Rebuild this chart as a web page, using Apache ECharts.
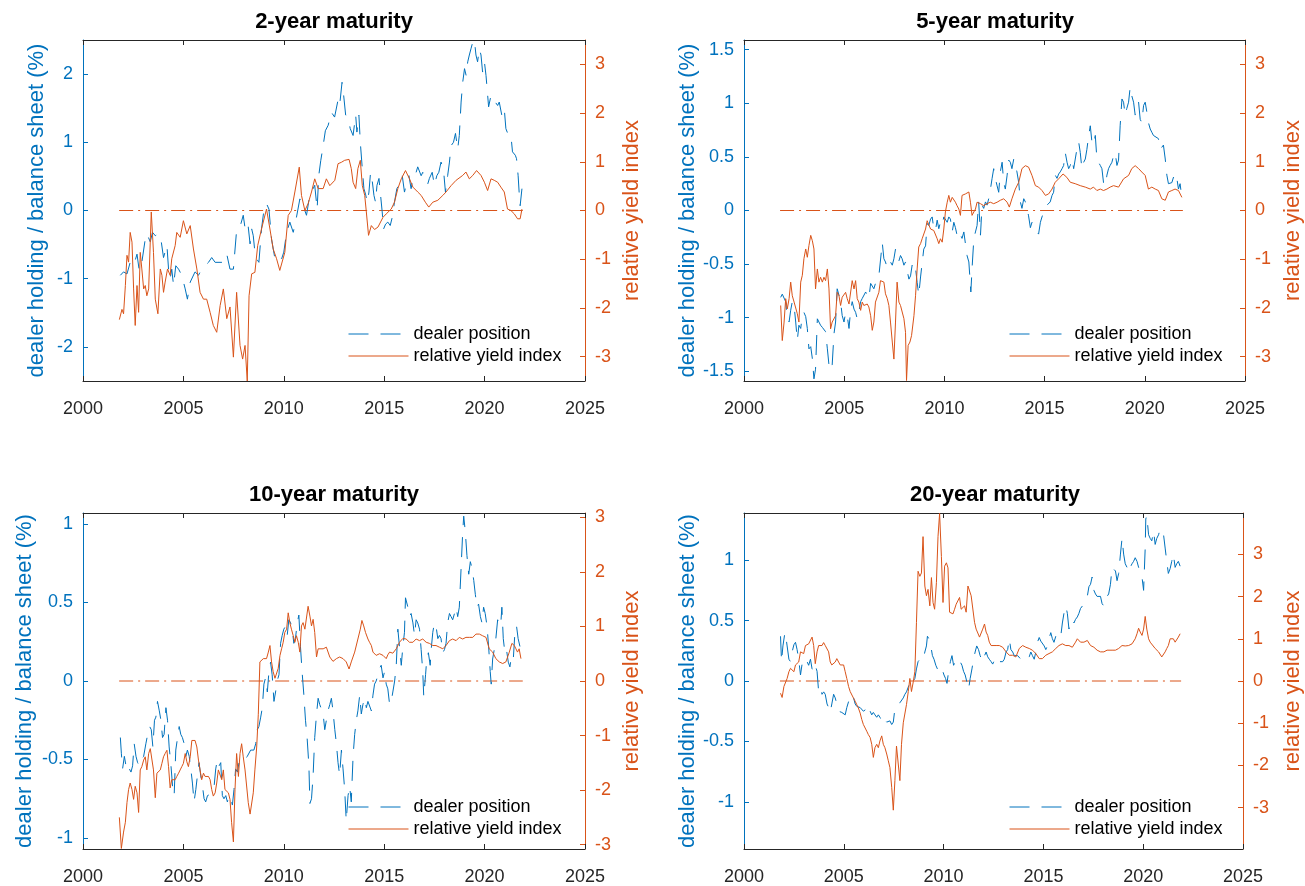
<!DOCTYPE html>
<html>
<head>
<meta charset="utf-8">
<title>Dealer position and relative yield index</title>
<script src="https://cdn.jsdelivr.net/npm/echarts@6/dist/echarts.min.js"></script>
<style>
  html, body { margin: 0; padding: 0; background: #fff; }
  #chart { width: 1305px; height: 886px; }
</style>
</head>
<body>
<div id="chart"></div>
<script>
var titles = ['2-year maturity', '5-year maturity', '10-year maturity', '20-year maturity']
var yearTicks = [2000, 2025]
var zeroSpan = [2001.8, 2021.9]
var leftLimit = [2.5, 1.59, 1.07, 1.39]
var rightLimit = [3.5, 3.5, 3.08, 3.98]
var leftTicks = [
  [-2, -1, 0, 1, 2],
  [-1.5, -1, -0.5, 0, 0.5, 1, 1.5],
  [-1, -0.5, 0, 0.5, 1],
  [-1, -0.5, 0, 0.5, 1]
]
var rightTicks = [-3, -2, -1, 0, 1, 2, 3]

// [year, value]
var dealer2y = [[2001.86,-0.95],[2002.02,-0.90],[2002.19,-0.93],[2002.35,-0.76],[2002.52,-0.81],[2002.69,-0.64],[2002.80,-0.88],[2002.93,-0.76],[2003.10,-0.42],[2003.18,-0.34],[2003.35,-0.46],[2003.46,-0.32],[2003.60,-0.37],[2003.76,-0.34],[2003.88,-0.42],[2004.01,-0.69],[2004.18,-0.51],[2004.26,-0.86],[2004.34,-1.00],[2004.42,-0.86],[2004.51,-1.10],[2004.62,-0.81],[2004.76,-0.86],[2004.92,-0.95],[2005.09,-1.15],[2005.20,-1.30],[2005.34,-1.05],[2005.58,-0.90],[2005.75,-0.95],[2005.91,-0.86],[2006.08,-0.81],[2006.25,-0.76],[2006.41,-0.69],[2006.58,-0.76],[2006.99,-0.76],[2007.16,-0.64],[2007.32,-0.86],[2007.49,-0.86],[2007.65,-0.29],[2007.82,-0.24],[2007.98,-0.07],[2008.10,-0.32],[2008.23,-0.24],[2008.32,-0.49],[2008.40,-0.27],[2008.48,-0.37],[2008.56,-0.61],[2008.65,-0.71],[2008.76,-0.76],[2008.89,-0.27],[2009.03,0.05],[2009.14,0.10],[2009.26,0.02],[2009.39,-0.42],[2009.56,-0.71],[2009.72,-0.66],[2009.89,-0.71],[2010.00,-0.61],[2010.14,-0.32],[2010.30,-0.17],[2010.47,-0.32],[2010.63,-0.10],[2010.80,0.17],[2010.96,0.07],[2011.13,-0.07],[2011.30,0.24],[2011.46,0.32],[2011.54,0.37],[2011.66,0.02],[2011.74,0.51],[2011.84,0.73],[2011.96,0.95],[2012.07,1.17],[2012.21,1.25],[2012.37,1.44],[2012.53,1.37],[2012.70,1.62],[2012.78,1.54],[2012.90,1.88],[2012.98,1.69],[2013.08,1.40],[2013.20,1.35],[2013.31,1.20],[2013.45,1.10],[2013.58,1.40],[2013.64,1.15],[2013.74,1.40],[2013.81,1.00],[2013.91,0.61],[2013.99,0.32],[2014.07,0.24],[2014.16,0.12],[2014.24,0.27],[2014.32,0.56],[2014.41,0.42],[2014.49,0.22],[2014.57,0.12],[2014.64,0.37],[2014.74,0.47],[2014.82,0.22],[2014.90,-0.02],[2014.97,-0.27],[2015.07,-0.20],[2015.18,-0.17],[2015.30,-0.22],[2015.40,-0.10],[2015.51,0.12],[2015.63,0.32],[2015.76,0.39],[2015.90,0.51],[2016.01,0.27],[2016.13,0.42],[2016.23,0.51],[2016.34,0.32],[2016.46,0.51],[2016.59,0.56],[2016.67,0.64],[2016.84,0.51],[2016.92,0.56],[2017.05,0.42],[2017.17,0.39],[2017.25,0.47],[2017.39,0.56],[2017.50,0.37],[2017.62,0.51],[2017.72,0.56],[2017.83,0.71],[2017.95,0.61],[2018.05,0.27],[2018.16,0.51],[2018.25,0.71],[2018.33,0.95],[2018.45,1.00],[2018.55,1.13],[2018.66,0.90],[2018.74,1.10],[2018.83,1.59],[2018.91,1.88],[2019.00,2.08],[2019.08,1.98],[2019.16,2.18],[2019.24,2.28],[2019.32,2.37],[2019.41,2.47],[2019.49,2.50],[2019.57,2.28],[2019.65,2.18],[2019.74,2.37],[2019.82,2.28],[2019.90,2.03],[2019.99,2.18],[2020.07,1.98],[2020.20,1.52],[2020.32,1.69],[2020.40,1.64],[2020.53,1.59],[2020.65,1.54],[2020.73,1.59],[2020.86,1.39],[2020.98,1.49],[2021.06,1.20],[2021.19,1.10],[2021.31,1.10],[2021.39,0.86],[2021.53,0.81],[2021.59,0.76],[2021.67,0.51],[2021.72,0.27],[2021.77,0.07],[2021.86,0.32]]

var ryi2y = [[2001.81,-2.24],[2001.94,-2.03],[2002.02,-2.12],[2002.11,-1.54],[2002.19,-0.92],[2002.27,-1.06],[2002.35,-0.45],[2002.44,-0.65],[2002.52,-1.61],[2002.60,-2.36],[2002.69,-1.54],[2002.77,-2.09],[2002.85,-0.86],[2002.93,-1.20],[2003.02,-1.61],[2003.10,-1.54],[2003.18,-1.75],[2003.27,-1.61],[2003.40,-0.03],[2003.51,-0.86],[2003.60,-1.82],[2003.73,-2.12],[2003.85,-1.20],[2003.93,-1.33],[2004.01,-1.68],[2004.09,-1.47],[2004.21,-1.20],[2004.34,-1.33],[2004.42,-0.99],[2004.59,-0.72],[2004.67,-0.45],[2004.76,-0.48],[2004.84,-0.55],[2005.00,-0.21],[2005.17,-0.48],[2005.34,-0.31],[2005.50,-0.79],[2005.67,-1.20],[2005.83,-1.68],[2006.00,-1.82],[2006.16,-1.82],[2006.33,-2.09],[2006.49,-2.36],[2006.66,-2.50],[2006.83,-1.95],[2006.99,-1.61],[2007.16,-2.22],[2007.32,-1.98],[2007.49,-3.01],[2007.65,-1.68],[2007.82,-2.77],[2007.95,-3.05],[2008.07,-2.77],[2008.18,-3.50],[2008.27,-1.75],[2008.40,-1.30],[2008.56,-1.27],[2008.70,-0.72],[2008.89,-0.38],[2009.14,0.03],[2009.31,-0.38],[2009.47,-0.79],[2009.64,-0.99],[2009.80,-1.23],[2009.89,-1.23],[2010.05,-0.86],[2010.22,-0.10],[2010.38,0.00],[2010.55,0.38],[2010.77,0.89],[2010.88,0.31],[2011.05,0.00],[2011.21,0.14],[2011.38,0.38],[2011.54,0.65],[2011.71,0.45],[2011.96,0.45],[2012.12,0.65],[2012.29,0.51],[2012.54,0.62],[2012.70,0.96],[2012.87,0.99],[2013.03,1.03],[2013.25,1.05],[2013.36,0.86],[2013.45,0.58],[2013.58,0.45],[2013.69,0.86],[2013.81,1.03],[2013.91,0.51],[2014.03,0.31],[2014.11,-0.03],[2014.22,-0.51],[2014.36,-0.31],[2014.52,-0.39],[2014.69,-0.34],[2014.94,-0.14],[2015.10,-0.07],[2015.35,0.03],[2015.51,0.17],[2015.68,0.45],[2015.85,0.65],[2016.06,0.82],[2016.26,0.65],[2016.43,0.48],[2016.67,0.38],[2016.84,0.31],[2017.05,0.17],[2017.22,0.07],[2017.42,0.17],[2017.67,0.21],[2017.92,0.31],[2018.08,0.38],[2018.33,0.51],[2018.58,0.62],[2018.91,0.72],[2019.07,0.79],[2019.24,0.65],[2019.41,0.72],[2019.60,0.82],[2019.82,0.72],[2019.99,0.58],[2020.15,0.41],[2020.32,0.65],[2020.48,0.62],[2020.65,0.58],[2020.81,0.48],[2020.98,0.38],[2021.14,0.03],[2021.31,0.00],[2021.48,-0.07],[2021.64,-0.17],[2021.77,-0.17],[2021.86,0.03]]

var dealer5y = [[2001.83,-0.81],[2001.91,-0.78],[2002.00,-0.79],[2002.08,-0.85],[2002.16,-1.01],[2002.25,-1.04],[2002.33,-0.93],[2002.41,-0.85],[2002.50,-0.89],[2002.58,-1.04],[2002.66,-1.21],[2002.74,-1.07],[2002.83,-1.10],[2002.91,-0.98],[2002.99,-0.95],[2003.08,-0.99],[2003.16,-1.10],[2003.24,-1.29],[2003.33,-1.27],[2003.41,-1.38],[2003.49,-1.57],[2003.57,-1.48],[2003.66,-1.01],[2003.74,-1.04],[2003.82,-1.07],[2003.91,-1.09],[2003.99,-1.10],[2004.07,-1.13],[2004.16,-1.29],[2004.24,-1.44],[2004.32,-1.49],[2004.40,-1.44],[2004.49,-1.15],[2004.57,-1.04],[2004.65,-0.73],[2004.74,-0.79],[2004.82,-0.85],[2004.90,-0.98],[2004.99,-1.04],[2005.07,-0.95],[2005.15,-0.98],[2005.24,-1.10],[2005.32,-0.93],[2005.40,-0.85],[2005.49,-0.92],[2005.57,-0.95],[2005.65,-1.01],[2005.73,-0.95],[2005.82,-0.85],[2005.90,-0.82],[2006.07,-0.76],[2006.23,-0.82],[2006.32,-0.68],[2006.40,-0.67],[2006.48,-0.73],[2006.56,-0.68],[2006.65,-0.64],[2006.73,-0.61],[2006.81,-0.61],[2006.90,-0.30],[2006.98,-0.45],[2007.06,-0.48],[2007.15,-0.54],[2007.23,-0.54],[2007.31,-0.48],[2007.40,-0.51],[2007.48,-0.45],[2007.56,-0.36],[2007.64,-0.42],[2007.73,-0.47],[2007.81,-0.42],[2007.89,-0.45],[2007.98,-0.51],[2008.06,-0.48],[2008.14,-0.56],[2008.23,-0.64],[2008.31,-0.61],[2008.39,-0.51],[2008.48,-0.57],[2008.56,-0.54],[2008.64,-0.67],[2008.72,-0.79],[2008.81,-0.62],[2008.89,-0.61],[2008.97,-0.36],[2009.06,-0.33],[2009.14,-0.12],[2009.22,-0.14],[2009.31,-0.08],[2009.39,-0.06],[2009.47,-0.17],[2009.55,-0.19],[2009.64,-0.09],[2009.72,-0.17],[2009.80,-0.11],[2009.89,-0.14],[2009.97,-0.06],[2010.05,-0.05],[2010.14,-0.11],[2010.22,-0.06],[2010.30,-0.08],[2010.39,-0.20],[2010.47,-0.11],[2010.55,-0.16],[2010.63,-0.23],[2010.72,-0.19],[2010.80,-0.20],[2010.88,-0.26],[2010.97,-0.20],[2011.13,-0.42],[2011.22,-0.48],[2011.32,-0.76],[2011.38,-0.54],[2011.47,-0.26],[2011.55,-0.20],[2011.63,-0.14],[2011.71,0.08],[2011.80,-0.23],[2011.88,0.05],[2011.96,0.02],[2012.05,0.08],[2012.13,0.05],[2012.21,0.11],[2012.29,0.19],[2012.38,0.30],[2012.46,0.39],[2012.54,0.30],[2012.63,0.23],[2012.71,0.17],[2012.79,0.36],[2012.88,0.45],[2012.96,0.26],[2013.04,0.20],[2013.13,0.33],[2013.21,0.47],[2013.29,0.45],[2013.37,0.39],[2013.46,0.48],[2013.54,0.42],[2013.62,0.36],[2013.71,0.26],[2013.79,0.08],[2013.87,0.02],[2013.96,0.11],[2014.04,0.08],[2014.12,0.02],[2014.20,-0.05],[2014.29,-0.16],[2014.37,-0.11],[2014.45,-0.11],[2014.54,-0.16],[2014.62,-0.20],[2014.70,-0.22],[2014.79,-0.11],[2014.87,-0.06],[2014.95,-0.05],[2015.04,0.03],[2015.12,0.05],[2015.20,0.06],[2015.28,0.08],[2015.37,0.14],[2015.45,0.17],[2015.53,0.33],[2015.62,0.30],[2015.70,0.34],[2015.78,0.36],[2015.87,0.39],[2015.95,0.42],[2016.03,0.54],[2016.12,0.45],[2016.20,0.39],[2016.28,0.42],[2016.37,0.48],[2016.45,0.39],[2016.53,0.48],[2016.61,0.57],[2016.70,0.64],[2016.78,0.54],[2016.86,0.39],[2016.95,0.45],[2017.03,0.48],[2017.11,0.57],[2017.20,0.70],[2017.28,0.79],[2017.36,0.64],[2017.44,0.61],[2017.53,0.70],[2017.61,0.48],[2017.69,0.45],[2017.78,0.42],[2017.86,0.39],[2017.94,0.26],[2018.03,0.23],[2018.11,0.33],[2018.19,0.39],[2018.27,0.42],[2018.36,0.45],[2018.44,0.51],[2018.52,0.54],[2018.61,0.42],[2018.69,0.47],[2018.77,0.79],[2018.86,1.04],[2018.94,1.01],[2019.02,0.89],[2019.10,0.95],[2019.19,1.01],[2019.27,1.15],[2019.35,1.07],[2019.44,1.01],[2019.52,0.89],[2019.60,0.95],[2019.69,1.01],[2019.77,0.85],[2019.85,0.82],[2019.94,0.98],[2020.02,1.01],[2020.10,0.92],[2020.18,0.82],[2020.27,0.76],[2020.35,0.73],[2020.43,0.70],[2020.52,0.71],[2020.68,0.67],[2020.77,0.57],[2020.85,0.59],[2020.93,0.61],[2021.02,0.48],[2021.10,0.33],[2021.18,0.25],[2021.26,0.25],[2021.35,0.26],[2021.43,0.31],[2021.51,0.26],[2021.60,0.30],[2021.68,0.20],[2021.76,0.25],[2021.85,0.12]]

var ryi5y = [[2001.83,-1.95],[2001.91,-2.67],[2002.00,-2.29],[2002.08,-1.81],[2002.16,-2.02],[2002.25,-1.81],[2002.33,-1.47],[2002.41,-1.75],[2002.50,-1.88],[2002.58,-1.88],[2002.66,-2.12],[2002.74,-2.29],[2002.83,-1.47],[2002.91,-1.33],[2002.99,-0.99],[2003.08,-0.79],[2003.16,-0.96],[2003.24,-0.72],[2003.33,-0.51],[2003.41,-0.62],[2003.49,-0.79],[2003.57,-1.61],[2003.66,-1.20],[2003.74,-1.47],[2003.82,-1.37],[2003.91,-1.47],[2003.99,-1.37],[2004.07,-1.44],[2004.16,-1.20],[2004.24,-1.61],[2004.32,-2.43],[2004.40,-2.29],[2004.49,-2.26],[2004.57,-2.16],[2004.65,-1.68],[2004.74,-1.75],[2004.82,-1.95],[2004.90,-1.78],[2004.99,-1.81],[2005.07,-1.68],[2005.15,-1.81],[2005.24,-1.92],[2005.32,-1.88],[2005.40,-1.44],[2005.49,-1.61],[2005.57,-1.44],[2005.65,-1.81],[2005.73,-1.88],[2005.82,-2.05],[2005.90,-1.88],[2005.98,-1.95],[2006.15,-1.92],[2006.23,-1.98],[2006.32,-2.16],[2006.40,-2.46],[2006.48,-2.29],[2006.56,-1.88],[2006.65,-1.88],[2006.73,-1.68],[2006.81,-1.44],[2006.90,-1.40],[2006.98,-1.47],[2007.06,-1.71],[2007.15,-1.81],[2007.23,-1.95],[2007.31,-2.29],[2007.40,-2.70],[2007.48,-3.05],[2007.56,-2.29],[2007.64,-1.47],[2007.73,-1.88],[2007.81,-1.95],[2007.89,-1.95],[2007.98,-2.22],[2008.06,-2.50],[2008.11,-3.49],[2008.19,-2.77],[2008.28,-2.70],[2008.36,-2.57],[2008.48,-2.16],[2008.56,-1.75],[2008.64,-1.20],[2008.72,-0.75],[2008.81,-0.68],[2008.89,-0.58],[2008.97,-0.58],[2009.06,-0.38],[2009.14,-0.21],[2009.22,-0.24],[2009.31,-0.38],[2009.39,-0.38],[2009.47,-0.41],[2009.55,-0.44],[2009.64,-0.58],[2009.72,-0.68],[2009.80,-0.58],[2009.89,-0.65],[2009.97,-0.38],[2010.05,-0.03],[2010.14,0.17],[2010.22,0.31],[2010.30,0.17],[2010.39,0.27],[2010.47,0.24],[2010.55,0.17],[2010.63,0.10],[2010.72,0.03],[2010.80,-0.10],[2010.88,0.31],[2010.97,0.32],[2011.05,0.34],[2011.13,0.34],[2011.22,0.38],[2011.30,0.17],[2011.38,-0.10],[2011.47,-0.03],[2011.55,0.03],[2011.63,0.17],[2011.80,0.14],[2011.96,0.10],[2012.13,0.14],[2012.29,0.17],[2012.46,0.14],[2012.63,0.17],[2012.79,0.21],[2012.96,0.24],[2013.13,0.17],[2013.24,0.07],[2013.37,0.24],[2013.54,0.44],[2013.71,0.58],[2013.87,0.86],[2014.04,0.92],[2014.20,0.89],[2014.37,0.72],[2014.54,0.51],[2014.70,0.48],[2014.87,0.41],[2015.04,0.31],[2015.20,0.34],[2015.37,0.44],[2015.53,0.58],[2015.70,0.65],[2015.92,0.75],[2016.11,0.68],[2016.28,0.58],[2016.53,0.55],[2016.78,0.51],[2017.03,0.48],[2017.28,0.44],[2017.44,0.48],[2017.61,0.41],[2017.78,0.44],[2017.94,0.41],[2018.11,0.44],[2018.27,0.48],[2018.44,0.51],[2018.69,0.48],[2018.77,0.44],[2018.94,0.65],[2019.19,0.72],[2019.35,0.86],[2019.52,0.92],[2019.69,0.86],[2019.85,0.79],[2020.02,0.72],[2020.18,0.44],[2020.35,0.48],[2020.52,0.44],[2020.68,0.41],[2020.85,0.24],[2021.02,0.21],[2021.10,0.17],[2021.18,0.38],[2021.35,0.41],[2021.51,0.44],[2021.68,0.41],[2021.85,0.27]]

var dealer10y = [[2001.86,-0.36],[2001.91,-0.46],[2001.97,-0.56],[2002.06,-0.48],[2002.14,-0.54],[2002.22,-0.58],[2002.31,-0.56],[2002.39,-0.58],[2002.47,-0.54],[2002.55,-0.40],[2002.64,-0.48],[2002.72,-0.52],[2002.80,-0.54],[2002.90,-0.50],[2003.02,-0.48],[2003.13,-0.40],[2003.22,-0.34],[2003.32,-0.29],[2003.40,-0.31],[2003.48,-0.42],[2003.56,-0.25],[2003.63,-0.23],[2003.71,-0.13],[2003.80,-0.19],[2003.88,-0.25],[2003.96,-0.36],[2004.04,-0.34],[2004.13,-0.17],[2004.21,-0.25],[2004.29,-0.42],[2004.37,-0.52],[2004.46,-0.67],[2004.54,-0.73],[2004.62,-0.44],[2004.71,-0.36],[2004.79,-0.29],[2004.87,-0.34],[2004.95,-0.36],[2005.04,-0.40],[2005.12,-0.48],[2005.20,-0.44],[2005.29,-0.48],[2005.37,-0.56],[2005.45,-0.65],[2005.53,-0.77],[2005.62,-0.69],[2005.70,-0.60],[2005.78,-0.52],[2005.86,-0.60],[2005.95,-0.67],[2006.03,-0.75],[2006.11,-0.77],[2006.20,-0.73],[2006.28,-0.73],[2006.36,-0.72],[2006.44,-0.73],[2006.53,-0.67],[2006.61,-0.56],[2006.69,-0.50],[2006.78,-0.54],[2006.86,-0.52],[2006.94,-0.73],[2007.02,-0.75],[2007.11,-0.73],[2007.19,-0.77],[2007.27,-0.73],[2007.36,-0.75],[2007.44,-0.79],[2007.52,-0.69],[2007.60,-0.56],[2007.69,-0.58],[2007.77,-0.52],[2007.85,-0.50],[2008.02,-0.51],[2008.18,-0.48],[2008.35,-0.44],[2008.51,-0.44],[2008.60,-0.40],[2008.68,-0.31],[2008.76,-0.29],[2008.85,-0.23],[2008.93,-0.17],[2009.01,-0.02],[2009.09,0.02],[2009.18,-0.07],[2009.26,0.06],[2009.34,0.12],[2009.42,0.04],[2009.51,-0.13],[2009.59,-0.07],[2009.67,0.00],[2009.76,0.04],[2009.84,0.24],[2009.92,0.29],[2010.00,0.33],[2010.09,0.35],[2010.17,0.29],[2010.25,0.39],[2010.34,0.37],[2010.42,0.33],[2010.50,0.24],[2010.58,0.27],[2010.67,0.37],[2010.75,0.42],[2010.83,0.22],[2010.91,0.06],[2011.00,-0.09],[2011.08,-0.25],[2011.16,-0.36],[2011.25,-0.54],[2011.30,-0.78],[2011.38,-0.75],[2011.46,-0.60],[2011.54,-0.36],[2011.63,-0.21],[2011.71,-0.11],[2011.79,-0.15],[2011.96,-0.21],[2012.04,-0.31],[2012.12,-0.25],[2012.20,-0.19],[2012.29,-0.15],[2012.37,-0.11],[2012.45,-0.19],[2012.54,-0.31],[2012.62,-0.40],[2012.70,-0.52],[2012.78,-0.60],[2012.87,-0.44],[2012.95,-0.56],[2013.03,-0.69],[2013.11,-0.89],[2013.20,-0.73],[2013.28,-0.67],[2013.36,-0.77],[2013.45,-0.48],[2013.53,-0.34],[2013.61,-0.25],[2013.69,-0.19],[2013.78,-0.09],[2013.86,-0.21],[2013.94,-0.15],[2014.03,-0.11],[2014.11,-0.17],[2014.19,-0.13],[2014.27,-0.13],[2014.36,-0.19],[2014.44,-0.09],[2014.52,-0.02],[2014.60,0.00],[2014.69,0.04],[2014.77,0.08],[2014.85,0.10],[2014.94,0.02],[2015.02,0.06],[2015.10,-0.02],[2015.18,-0.05],[2015.27,-0.15],[2015.35,-0.13],[2015.43,-0.07],[2015.52,0.00],[2015.60,0.10],[2015.68,0.33],[2015.76,0.22],[2015.85,0.10],[2015.93,0.22],[2016.01,0.31],[2016.06,0.53],[2016.18,0.47],[2016.26,0.41],[2016.34,0.43],[2016.43,0.37],[2016.51,0.29],[2016.59,0.39],[2016.67,0.37],[2016.76,0.33],[2016.84,0.20],[2016.92,0.06],[2016.97,-0.10],[2017.06,0.04],[2017.12,0.14],[2017.20,0.18],[2017.29,0.10],[2017.34,0.20],[2017.42,0.31],[2017.50,0.37],[2017.58,0.35],[2017.67,0.27],[2017.75,0.29],[2017.83,0.27],[2017.92,0.18],[2018.00,0.20],[2018.08,0.24],[2018.16,0.37],[2018.25,0.43],[2018.33,0.41],[2018.41,0.39],[2018.50,0.43],[2018.58,0.47],[2018.66,0.41],[2018.74,0.47],[2018.83,0.72],[2018.91,0.95],[2018.96,1.05],[2019.04,0.95],[2019.12,0.80],[2019.21,0.68],[2019.29,0.76],[2019.37,0.72],[2019.46,0.64],[2019.54,0.55],[2019.62,0.47],[2019.70,0.49],[2019.79,0.41],[2019.87,0.37],[2019.95,0.47],[2020.03,0.43],[2020.12,0.35],[2020.20,0.22],[2020.28,0.06],[2020.33,-0.02],[2020.40,0.14],[2020.48,0.20],[2020.56,0.27],[2020.65,0.39],[2020.73,0.35],[2020.81,0.37],[2020.86,0.47],[2020.93,0.27],[2021.01,0.18],[2021.09,0.20],[2021.18,0.12],[2021.26,0.09],[2021.34,0.16],[2021.43,0.14],[2021.51,0.31],[2021.59,0.35],[2021.67,0.27],[2021.76,0.22],[2021.84,0.18]]

var ryi10y = [[2001.81,-2.50],[2001.91,-3.07],[2002.02,-2.77],[2002.11,-2.59],[2002.19,-2.23],[2002.27,-1.99],[2002.35,-1.87],[2002.44,-1.99],[2002.52,-2.17],[2002.60,-1.93],[2002.69,-2.05],[2002.77,-2.41],[2002.85,-1.63],[2002.93,-1.57],[2003.02,-1.45],[2003.10,-1.39],[2003.18,-1.63],[2003.27,-1.33],[2003.35,-1.24],[2003.43,-1.27],[2003.51,-1.63],[2003.60,-2.14],[2003.68,-1.69],[2003.76,-1.69],[2003.85,-1.63],[2003.93,-1.51],[2004.01,-1.39],[2004.09,-1.33],[2004.18,-1.27],[2004.26,-1.57],[2004.34,-1.96],[2004.42,-1.81],[2004.51,-1.78],[2004.59,-1.81],[2004.67,-1.75],[2004.76,-1.69],[2004.84,-1.63],[2004.92,-1.57],[2005.00,-1.51],[2005.09,-1.33],[2005.17,-1.48],[2005.25,-1.57],[2005.34,-1.39],[2005.42,-1.09],[2005.50,-1.12],[2005.58,-1.09],[2005.67,-1.21],[2005.75,-1.45],[2005.83,-1.63],[2005.91,-1.81],[2006.00,-1.69],[2006.08,-1.75],[2006.16,-1.72],[2006.25,-1.75],[2006.33,-1.81],[2006.41,-1.99],[2006.49,-2.11],[2006.58,-2.05],[2006.66,-1.87],[2006.74,-1.63],[2006.83,-1.60],[2006.91,-1.81],[2006.99,-1.63],[2007.07,-1.99],[2007.16,-1.99],[2007.24,-2.05],[2007.32,-2.17],[2007.40,-2.59],[2007.49,-2.95],[2007.57,-1.99],[2007.65,-1.33],[2007.74,-1.75],[2007.82,-1.33],[2007.90,-1.15],[2007.98,-1.39],[2008.07,-1.63],[2008.15,-1.63],[2008.23,-2.23],[2008.32,-2.44],[2008.40,-2.41],[2008.48,-2.05],[2008.56,-1.63],[2008.65,-1.21],[2008.73,-0.61],[2008.81,0.35],[2008.89,0.38],[2008.98,0.41],[2009.06,0.38],[2009.14,0.41],[2009.23,0.53],[2009.31,0.65],[2009.39,0.35],[2009.47,0.17],[2009.56,0.05],[2009.64,0.05],[2009.72,0.23],[2009.81,0.47],[2009.89,0.59],[2009.97,0.71],[2010.05,0.89],[2010.14,0.95],[2010.22,1.25],[2010.30,1.07],[2010.38,0.95],[2010.47,0.83],[2010.55,0.71],[2010.63,0.83],[2010.72,0.71],[2010.80,0.53],[2010.88,1.01],[2010.96,1.07],[2011.05,0.95],[2011.13,0.95],[2011.21,1.37],[2011.30,1.19],[2011.38,1.01],[2011.46,1.13],[2011.54,0.89],[2011.63,0.44],[2011.71,0.59],[2011.79,0.62],[2011.96,0.59],[2012.12,0.62],[2012.29,0.44],[2012.45,0.36],[2012.62,0.41],[2012.78,0.44],[2012.95,0.41],[2013.11,0.35],[2013.25,0.22],[2013.36,0.35],[2013.53,0.53],[2013.69,0.77],[2013.81,0.95],[2013.89,1.11],[2013.98,1.01],[2014.07,0.89],[2014.19,0.77],[2014.27,0.71],[2014.36,0.65],[2014.44,0.53],[2014.52,0.50],[2014.60,0.47],[2014.77,0.50],[2014.94,0.47],[2015.10,0.41],[2015.18,0.48],[2015.27,0.53],[2015.43,0.51],[2015.60,0.59],[2015.76,0.71],[2015.93,0.78],[2016.09,0.77],[2016.26,0.71],[2016.43,0.71],[2016.59,0.77],[2016.76,0.74],[2016.92,0.77],[2017.09,0.71],[2017.25,0.69],[2017.42,0.65],[2017.58,0.65],[2017.75,0.62],[2017.92,0.59],[2018.08,0.65],[2018.25,0.74],[2018.41,0.77],[2018.58,0.74],[2018.74,0.80],[2018.91,0.77],[2019.07,0.80],[2019.24,0.80],[2019.41,0.80],[2019.57,0.86],[2019.74,0.86],[2019.90,0.83],[2020.07,0.80],[2020.15,0.77],[2020.23,0.59],[2020.40,0.53],[2020.56,0.41],[2020.73,0.35],[2020.90,0.32],[2021.06,0.35],[2021.23,0.53],[2021.36,0.69],[2021.48,0.65],[2021.56,0.59],[2021.64,0.53],[2021.72,0.59],[2021.81,0.41]]

var dealer20y = [[2001.83,0.37],[2001.88,0.16],[2001.95,0.29],[2002.05,0.40],[2002.11,0.35],[2002.16,0.29],[2002.25,0.18],[2002.33,0.16],[2002.41,0.24],[2002.50,0.30],[2002.58,0.32],[2002.66,0.26],[2002.74,0.18],[2002.83,0.05],[2002.91,0.14],[2002.99,0.16],[2003.08,0.13],[2003.16,0.16],[2003.24,0.13],[2003.33,0.18],[2003.41,0.10],[2003.49,0.08],[2003.57,0.13],[2003.66,0.08],[2003.74,-0.09],[2003.82,-0.06],[2003.91,-0.11],[2003.99,-0.09],[2004.07,-0.11],[2004.16,-0.19],[2004.24,-0.22],[2004.32,-0.26],[2004.40,-0.19],[2004.49,-0.11],[2004.57,-0.14],[2004.65,-0.19],[2004.74,-0.25],[2004.82,-0.26],[2004.90,-0.26],[2004.99,-0.25],[2005.07,-0.28],[2005.15,-0.22],[2005.24,-0.17],[2005.32,-0.14],[2005.40,-0.11],[2005.49,-0.14],[2005.57,-0.19],[2005.65,-0.21],[2005.73,-0.22],[2005.82,-0.22],[2005.90,-0.23],[2005.98,-0.25],[2006.07,-0.25],[2006.15,-0.23],[2006.23,-0.28],[2006.32,-0.25],[2006.40,-0.28],[2006.48,-0.26],[2006.56,-0.28],[2006.65,-0.30],[2006.73,-0.28],[2006.81,-0.30],[2006.90,-0.33],[2006.98,-0.30],[2007.06,-0.32],[2007.15,-0.34],[2007.23,-0.33],[2007.31,-0.33],[2007.40,-0.36],[2007.48,-0.34],[2007.56,-0.23],[2007.64,-0.22],[2007.73,-0.21],[2007.81,-0.18],[2007.89,-0.17],[2007.98,-0.14],[2008.06,-0.11],[2008.14,-0.09],[2008.23,-0.05],[2008.31,-0.01],[2008.39,-0.03],[2008.48,-0.01],[2008.56,0.02],[2008.64,0.10],[2008.72,0.16],[2008.81,0.18],[2008.89,0.18],[2008.97,0.17],[2009.06,0.24],[2009.14,0.29],[2009.19,0.37],[2009.26,0.35],[2009.36,0.29],[2009.44,0.21],[2009.52,0.18],[2009.61,0.13],[2009.69,0.10],[2009.77,0.08],[2009.85,0.06],[2009.94,0.09],[2010.02,0.05],[2010.10,0.02],[2010.17,-0.02],[2010.25,0.08],[2010.34,0.16],[2010.42,0.21],[2010.50,0.13],[2010.59,0.16],[2010.67,0.13],[2010.75,0.13],[2010.83,0.16],[2010.92,0.13],[2011.00,0.08],[2011.08,0.05],[2011.17,-0.01],[2011.25,-0.07],[2011.33,0.02],[2011.42,0.10],[2011.50,0.18],[2011.58,0.24],[2011.66,0.29],[2011.75,0.26],[2011.83,0.21],[2011.91,0.18],[2012.00,0.16],[2012.05,0.21],[2012.13,0.24],[2012.21,0.20],[2012.29,0.18],[2012.38,0.16],[2012.46,0.14],[2012.54,0.17],[2012.63,0.18],[2012.71,0.13],[2012.79,0.16],[2012.88,0.17],[2012.96,0.16],[2013.04,0.18],[2013.13,0.24],[2013.21,0.26],[2013.29,0.35],[2013.37,0.26],[2013.46,0.24],[2013.54,0.21],[2013.62,0.20],[2013.71,0.21],[2013.79,0.22],[2013.87,0.18],[2013.96,0.16],[2014.04,0.17],[2014.12,0.18],[2014.20,0.17],[2014.29,0.20],[2014.37,0.24],[2014.45,0.21],[2014.54,0.18],[2014.62,0.24],[2014.70,0.32],[2014.79,0.36],[2014.87,0.33],[2014.95,0.32],[2015.04,0.29],[2015.12,0.26],[2015.20,0.29],[2015.28,0.35],[2015.37,0.40],[2015.45,0.35],[2015.53,0.32],[2015.62,0.37],[2015.70,0.40],[2015.78,0.41],[2015.87,0.37],[2015.95,0.48],[2016.03,0.56],[2016.12,0.62],[2016.20,0.56],[2016.28,0.43],[2016.37,0.48],[2016.45,0.51],[2016.53,0.48],[2016.61,0.51],[2016.70,0.53],[2016.78,0.56],[2016.86,0.60],[2016.95,0.62],[2017.03,0.63],[2017.11,0.66],[2017.20,0.70],[2017.28,0.78],[2017.36,0.80],[2017.44,0.86],[2017.53,0.75],[2017.61,0.72],[2017.69,0.70],[2017.78,0.71],[2017.86,0.70],[2017.94,0.64],[2018.03,0.62],[2018.11,0.67],[2018.19,0.70],[2018.27,0.72],[2018.36,0.80],[2018.44,0.94],[2018.52,0.95],[2018.61,0.91],[2018.69,0.83],[2018.77,0.89],[2018.86,1.05],[2018.94,1.18],[2019.02,1.05],[2019.10,0.97],[2019.19,0.94],[2019.27,0.90],[2019.35,0.94],[2019.44,0.97],[2019.52,0.99],[2019.60,1.02],[2019.69,0.99],[2019.77,0.94],[2019.85,0.90],[2019.94,0.86],[2020.02,0.75],[2020.10,1.10],[2020.13,1.34],[2020.18,1.37],[2020.27,1.21],[2020.35,1.18],[2020.43,1.16],[2020.52,1.24],[2020.60,1.13],[2020.68,1.18],[2020.77,1.21],[2020.85,1.26],[2020.93,1.24],[2021.02,1.21],[2021.10,1.10],[2021.18,0.99],[2021.26,0.89],[2021.35,0.93],[2021.43,0.99],[2021.51,1.05],[2021.60,0.94],[2021.68,0.97],[2021.76,0.99],[2021.85,0.95]]

var ryi20y = [[2001.83,-0.29],[2001.91,-0.39],[2002.00,-0.13],[2002.08,-0.09],[2002.16,0.06],[2002.25,0.22],[2002.33,0.30],[2002.41,0.26],[2002.50,0.22],[2002.58,0.38],[2002.66,0.38],[2002.74,0.45],[2002.83,0.69],[2002.91,0.73],[2002.99,0.65],[2003.08,0.84],[2003.16,0.84],[2003.24,0.88],[2003.33,0.84],[2003.41,1.04],[2003.49,0.84],[2003.57,0.41],[2003.66,0.69],[2003.74,0.84],[2003.82,0.88],[2003.91,0.84],[2003.99,0.91],[2004.07,0.84],[2004.16,0.88],[2004.24,0.69],[2004.32,0.45],[2004.40,0.38],[2004.49,0.41],[2004.57,0.45],[2004.65,0.53],[2004.74,0.45],[2004.82,0.38],[2004.90,0.41],[2004.99,0.38],[2005.07,0.22],[2005.15,0.06],[2005.24,-0.13],[2005.32,-0.25],[2005.40,-0.21],[2005.49,-0.41],[2005.57,-0.48],[2005.65,-0.56],[2005.73,-0.64],[2005.82,-0.76],[2005.90,-0.91],[2005.98,-1.03],[2006.07,-1.07],[2006.15,-1.19],[2006.23,-1.27],[2006.32,-1.34],[2006.40,-1.50],[2006.48,-1.81],[2006.56,-1.58],[2006.65,-1.50],[2006.73,-1.58],[2006.81,-1.42],[2006.90,-1.30],[2006.98,-1.50],[2007.06,-1.58],[2007.15,-1.73],[2007.23,-1.89],[2007.31,-2.05],[2007.40,-2.52],[2007.48,-3.06],[2007.56,-2.36],[2007.64,-1.54],[2007.73,-1.50],[2007.81,-2.36],[2007.89,-1.50],[2007.98,-0.99],[2008.06,-1.03],[2008.14,-0.56],[2008.23,-0.25],[2008.31,0.06],[2008.39,-0.25],[2008.48,-0.02],[2008.56,0.22],[2008.64,1.39],[2008.72,2.60],[2008.81,2.48],[2008.89,2.56],[2008.97,3.42],[2009.06,2.25],[2009.14,2.02],[2009.22,2.17],[2009.31,1.78],[2009.39,2.45],[2009.47,1.86],[2009.55,1.70],[2009.64,2.33],[2009.72,3.42],[2009.80,3.97],[2009.89,2.95],[2009.97,1.86],[2010.05,2.72],[2010.14,2.80],[2010.22,2.68],[2010.30,1.63],[2010.39,1.59],[2010.47,1.59],[2010.55,1.70],[2010.63,1.82],[2010.72,1.86],[2010.80,1.98],[2010.88,1.70],[2010.97,1.66],[2011.05,1.78],[2011.13,1.63],[2011.22,2.25],[2011.30,2.21],[2011.38,2.02],[2011.47,2.05],[2011.55,1.39],[2011.63,1.23],[2011.71,1.20],[2011.80,1.04],[2011.88,1.08],[2011.96,1.23],[2012.05,1.35],[2012.13,1.16],[2012.21,1.08],[2012.29,0.92],[2012.38,0.84],[2012.46,0.80],[2012.63,0.84],[2012.79,0.84],[2012.96,0.80],[2013.13,0.69],[2013.29,0.61],[2013.46,0.61],[2013.62,0.57],[2013.79,0.77],[2013.96,0.84],[2014.12,0.80],[2014.29,0.77],[2014.45,0.73],[2014.62,0.65],[2014.79,0.53],[2014.95,0.53],[2015.12,0.61],[2015.28,0.65],[2015.45,0.69],[2015.62,0.77],[2015.78,0.84],[2015.95,0.88],[2016.12,0.84],[2016.28,0.84],[2016.45,0.80],[2016.61,0.92],[2016.70,1.00],[2016.86,0.92],[2017.03,0.92],[2017.20,0.96],[2017.36,0.84],[2017.53,0.80],[2017.69,0.73],[2017.86,0.69],[2018.03,0.69],[2018.19,0.73],[2018.44,0.73],[2018.61,0.73],[2018.77,0.77],[2018.94,0.84],[2019.10,0.83],[2019.27,0.84],[2019.44,0.88],[2019.60,1.00],[2019.69,1.12],[2019.77,1.25],[2019.85,1.16],[2019.94,1.08],[2020.02,1.23],[2020.10,1.53],[2020.18,1.23],[2020.27,1.00],[2020.35,0.92],[2020.43,0.88],[2020.60,0.77],[2020.77,0.69],[2020.93,0.57],[2021.02,0.53],[2021.10,0.69],[2021.18,0.77],[2021.26,0.84],[2021.35,1.00],[2021.43,1.04],[2021.51,1.00],[2021.60,0.92],[2021.68,0.96],[2021.76,1.04],[2021.85,1.12]]

var dealerSeries = [dealer2y, dealer5y, dealer10y, dealer20y]
var ryiSeries = [ryi2y, ryi5y, ryi10y, ryi20y]

// layout
var font = 'Liberation Sans, Arial, Helvetica, sans-serif'
var blue = '#0072BD'
var orange = '#D95319'
var ink = '#262626'
var boxes = [[83, 40], [744, 40], [83, 513], [744, 513]]
var W = 502, H = 341
var leftNameGap = [35, 43, 47, 43]
var rightNameGap = [36, 37, 36, 39]

var chart = echarts.init(document.getElementById('chart'))

var option = {
  animation: false,
  backgroundColor: '#fff',
  title: [],
  legend: [],
  grid: [],
  xAxis: [],
  yAxis: [],
  series: []
}

titles.forEach(function(t, i) {
  var L = boxes[i][0]
  var T = boxes[i][1]
  option.grid.push({ left: L, top: T, width: W, height: H })
  option.title.push({
    text: t,
    left: L + W / 2,
    top: T - 29,
    textAlign: 'center',
    padding: 0,
    textStyle: { fontFamily: font, fontSize: 22, fontWeight: 'bold', color: '#000' }
  })
  option.legend.push({
    data: ['dealer position', 'relative yield index'],
    orient: 'vertical',
    left: L + 265,
    top: T + 285,
    padding: 0,
    itemWidth: 60,
    itemHeight: 14,
    itemGap: 4,
    selectedMode: false,
    itemStyle: { opacity: 0 },
    lineStyle: { width: 1 },
    textStyle: { fontFamily: font, fontSize: 18, color: '#000' }
  })

  var xBase = {
    type: 'value',
    gridIndex: i,
    min: yearTicks[0],
    max: yearTicks[1],
    interval: 5,
    axisLine: { onZero: false, lineStyle: { color: ink, width: 1 } },
    axisTick: { inside: true, length: 5, lineStyle: { color: ink } },
    splitLine: { show: false }
  }
  option.xAxis.push(Object.assign({}, xBase, {
    position: 'bottom',
    axisLabel: {
      margin: 19, color: ink, fontSize: 18, fontFamily: font,
      formatter: function(v) { return String(v) }
    }
  }))
  option.xAxis.push(Object.assign({}, xBase, {
    position: 'top',
    axisLabel: { show: false }
  }))

  option.yAxis.push({
    type: 'value',
    gridIndex: i,
    position: 'left',
    min: -leftLimit[i],
    max: leftLimit[i],
    name: 'dealer holding / balance sheet (%)',
    nameLocation: 'middle',
    nameGap: leftNameGap[i],
    nameTextStyle: { color: blue, fontSize: 22, fontFamily: font },
    axisLine: { show: true, onZero: false, lineStyle: { color: blue, width: 1 } },
    axisTick: { show: true, inside: true, length: 5, customValues: leftTicks[i] },
    axisLabel: { customValues: leftTicks[i], color: blue, fontSize: 18, fontFamily: font, margin: 10 },
    splitLine: { show: false }
  })
  option.yAxis.push({
    type: 'value',
    gridIndex: i,
    position: 'right',
    min: -rightLimit[i],
    max: rightLimit[i],
    name: 'relative yield index',
    nameLocation: 'middle',
    nameGap: rightNameGap[i],
    nameTextStyle: { color: orange, fontSize: 22, fontFamily: font },
    axisLine: { show: true, onZero: false, lineStyle: { color: orange, width: 1 } },
    axisTick: { show: true, inside: true, length: 5, customValues: rightTicks },
    axisLabel: { customValues: rightTicks, color: orange, fontSize: 18, fontFamily: font, margin: 10 },
    splitLine: { show: false }
  })

  option.series.push({
    name: 'dealer position',
    type: 'line',
    xAxisIndex: 2 * i,
    yAxisIndex: 2 * i,
    data: dealerSeries[i],
    symbol: 'none',
    lineStyle: { color: blue, width: 1, type: [20, 12] },
    itemStyle: { color: blue },
    z: 3
  })
  option.series.push({
    name: 'relative yield index',
    type: 'line',
    xAxisIndex: 2 * i,
    yAxisIndex: 2 * i + 1,
    data: ryiSeries[i],
    symbol: 'none',
    lineStyle: { color: orange, width: 1 },
    itemStyle: { color: orange },
    z: 4
  })
  option.series.push({
    name: 'zero',
    type: 'line',
    xAxisIndex: 2 * i,
    yAxisIndex: 2 * i + 1,
    data: [[zeroSpan[0], 0], [zeroSpan[1], 0]],
    symbol: 'none',
    lineStyle: { color: orange, width: 1, type: [14, 5, 2, 5] },
    z: 2
  })
})

chart.setOption(option)
</script>
</body>
</html>
